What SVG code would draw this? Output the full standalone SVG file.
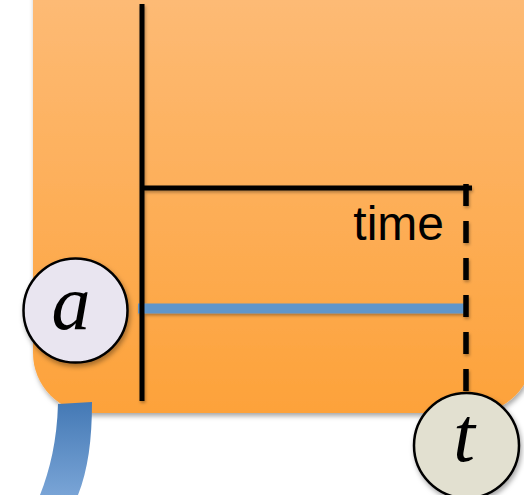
<svg xmlns="http://www.w3.org/2000/svg" width="524" height="495" viewBox="0 0 524 495">
  <defs>
    <linearGradient id="boxGrad" x1="0" y1="0" x2="0" y2="1">
      <stop offset="0" stop-color="#FDBF80"/>
      <stop offset="1" stop-color="#FDA23A"/>
    </linearGradient>
    <linearGradient id="bandGrad" x1="0" y1="0" x2="0" y2="1">
      <stop offset="0" stop-color="#4479B5"/>
      <stop offset="1" stop-color="#79A4D6"/>
    </linearGradient>
    <filter id="shadow" x="-20%" y="-20%" width="140%" height="140%">
      <feDropShadow dx="1.5" dy="3" stdDeviation="2.5" flood-color="#000" flood-opacity="0.35"/>
    </filter>
    <filter id="lineShadow" x="-20%" y="-20%" width="140%" height="140%">
      <feDropShadow dx="1" dy="2" stdDeviation="1.5" flood-color="#000" flood-opacity="0.3"/>
    </filter>
  </defs>
  <style>
    .axis { stroke: #000; stroke-width: 5; fill: none; }
    .dash { stroke: #000; stroke-width: 5.5; stroke-dasharray: 22 15; fill: none; }
    .blue { stroke: #6096CA; stroke-width: 10; fill: none; }
    .node { stroke: #000; stroke-width: 2.5; }
    .math { font-family: "Liberation Serif", "DejaVu Serif", serif; font-style: italic; font-size: 78px; fill: #000; text-anchor: middle; }
    .label { font-family: "Liberation Sans", "Open Sans", sans-serif; font-size: 48px; fill: #000; text-anchor: end; }
  </style>

  <g id="box">
    <rect x="33" y="-80" width="500" height="493" rx="60" ry="60" fill="url(#boxGrad)" filter="url(#shadow)"/>
  </g>

  <g id="band">
    <path d="M58,404 L92,402 C92,440 88,470 78,495 L40,495 C50,470 57,440 58,404 Z" fill="url(#bandGrad)"/>
  </g>

  <g id="connectors" filter="url(#lineShadow)">
    <line class="blue" x1="138" y1="308.5" x2="465" y2="308.5"/>
    <line class="axis" x1="142" y1="4" x2="142" y2="401"/>
    <line class="axis" x1="140" y1="188" x2="472" y2="188"/>
    <line class="dash" x1="466" y1="184" x2="466" y2="400"/>
  </g>

  <g id="label-time">
    <text class="label" x="444" y="240">time</text>
  </g>

  <g id="node-a">
    <circle class="node" cx="75.5" cy="310.5" r="52" fill="#E9E5F0" filter="url(#shadow)"/>
    <text class="math" x="71" y="329">a</text>
  </g>

  <g id="node-t">
    <circle class="node" cx="466.5" cy="445.5" r="52.5" fill="#E2E0D0" filter="url(#shadow)"/>
    <text class="math" x="464" y="461">t</text>
  </g>
</svg>
